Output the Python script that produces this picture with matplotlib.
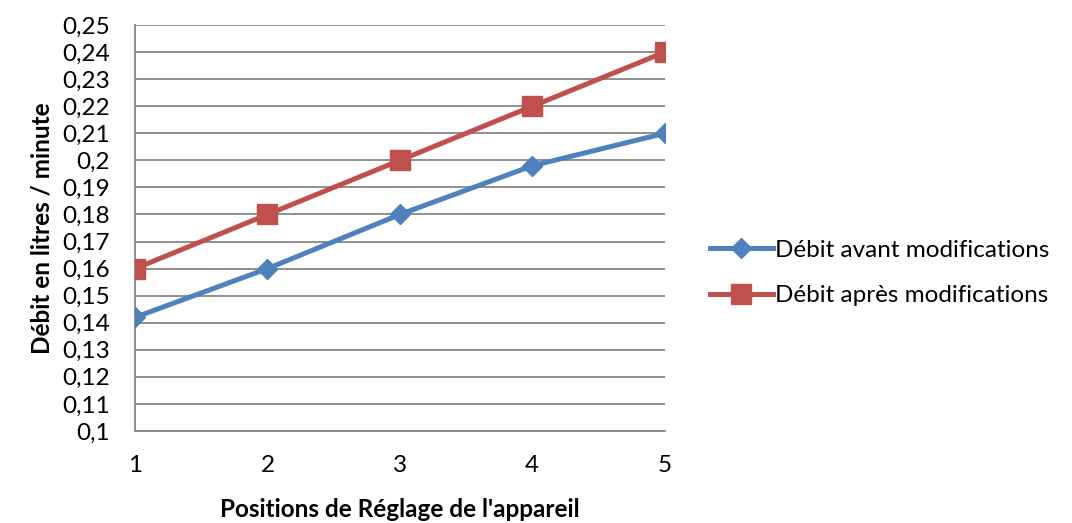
import matplotlib
matplotlib.use("Agg")
import matplotlib.pyplot as plt
from matplotlib.ticker import FuncFormatter

# data
positions = [1, 2, 3, 4, 5]
debit_avant = [0.142, 0.16, 0.18, 0.198, 0.21]
debit_apres = [0.16, 0.18, 0.20, 0.22, 0.24]
y_ticks = [0.10, 0.11, 0.12, 0.13, 0.14, 0.15, 0.16, 0.17, 0.18, 0.19,
           0.20, 0.21, 0.22, 0.23, 0.24, 0.25]

plt.rcParams['font.family'] = ['Lato', 'DejaVu Sans']

fig = plt.figure(figsize=(10.72, 5.23), dpi=100)
ax = fig.add_axes([0.126, 0.176, 0.494, 0.776])

grid_col = "#868686"
ax.plot(positions, debit_avant, color="#4F81BD", lw=3.6, marker="D",
        markersize=10, label="Débit avant modifications", zorder=3)
ax.plot(positions, debit_apres, color="#C0504D", lw=3.6, marker="s",
        markersize=14, label="Débit après modifications", zorder=3)

ax.set_xlim(1, 5)
ax.set_ylim(0.1, 0.25)
ax.set_xticks(positions)
ax.set_yticks(y_ticks)
ax.yaxis.set_major_formatter(FuncFormatter(lambda v, p: ("%g" % round(v, 2)).replace(".", ",")))
ax.grid(axis="y", color=grid_col, lw=1.3)
ax.set_axisbelow(True)
for s in ["top", "right"]:
    ax.spines[s].set_visible(False)
for s in ["left", "bottom"]:
    ax.spines[s].set_color(grid_col)
    ax.spines[s].set_linewidth(1.3)
ax.tick_params(axis="both", length=0, labelsize=17.5)
ax.tick_params(axis="y", pad=18)
ax.tick_params(axis="x", pad=17)
for lab in ax.get_xticklabels() + ax.get_yticklabels():
    lab.set_clip_on(False)

ax.set_xlabel("Positions de Réglage de l'appareil", fontsize=17.5,
              fontweight="bold", labelpad=16)
ax.set_ylabel("Débit en litres / minute", fontsize=17.5,
              fontweight="bold", labelpad=6)

ax.legend(loc="center left", bbox_to_anchor=(0.662, 1 - 273 / 523),
          bbox_transform=fig.transFigure, frameon=False, borderaxespad=0,
          borderpad=0, fontsize=17.5, handlelength=2.6, handletextpad=0.1,
          labelspacing=1.0)

fig.savefig("out.png", dpi=100)
